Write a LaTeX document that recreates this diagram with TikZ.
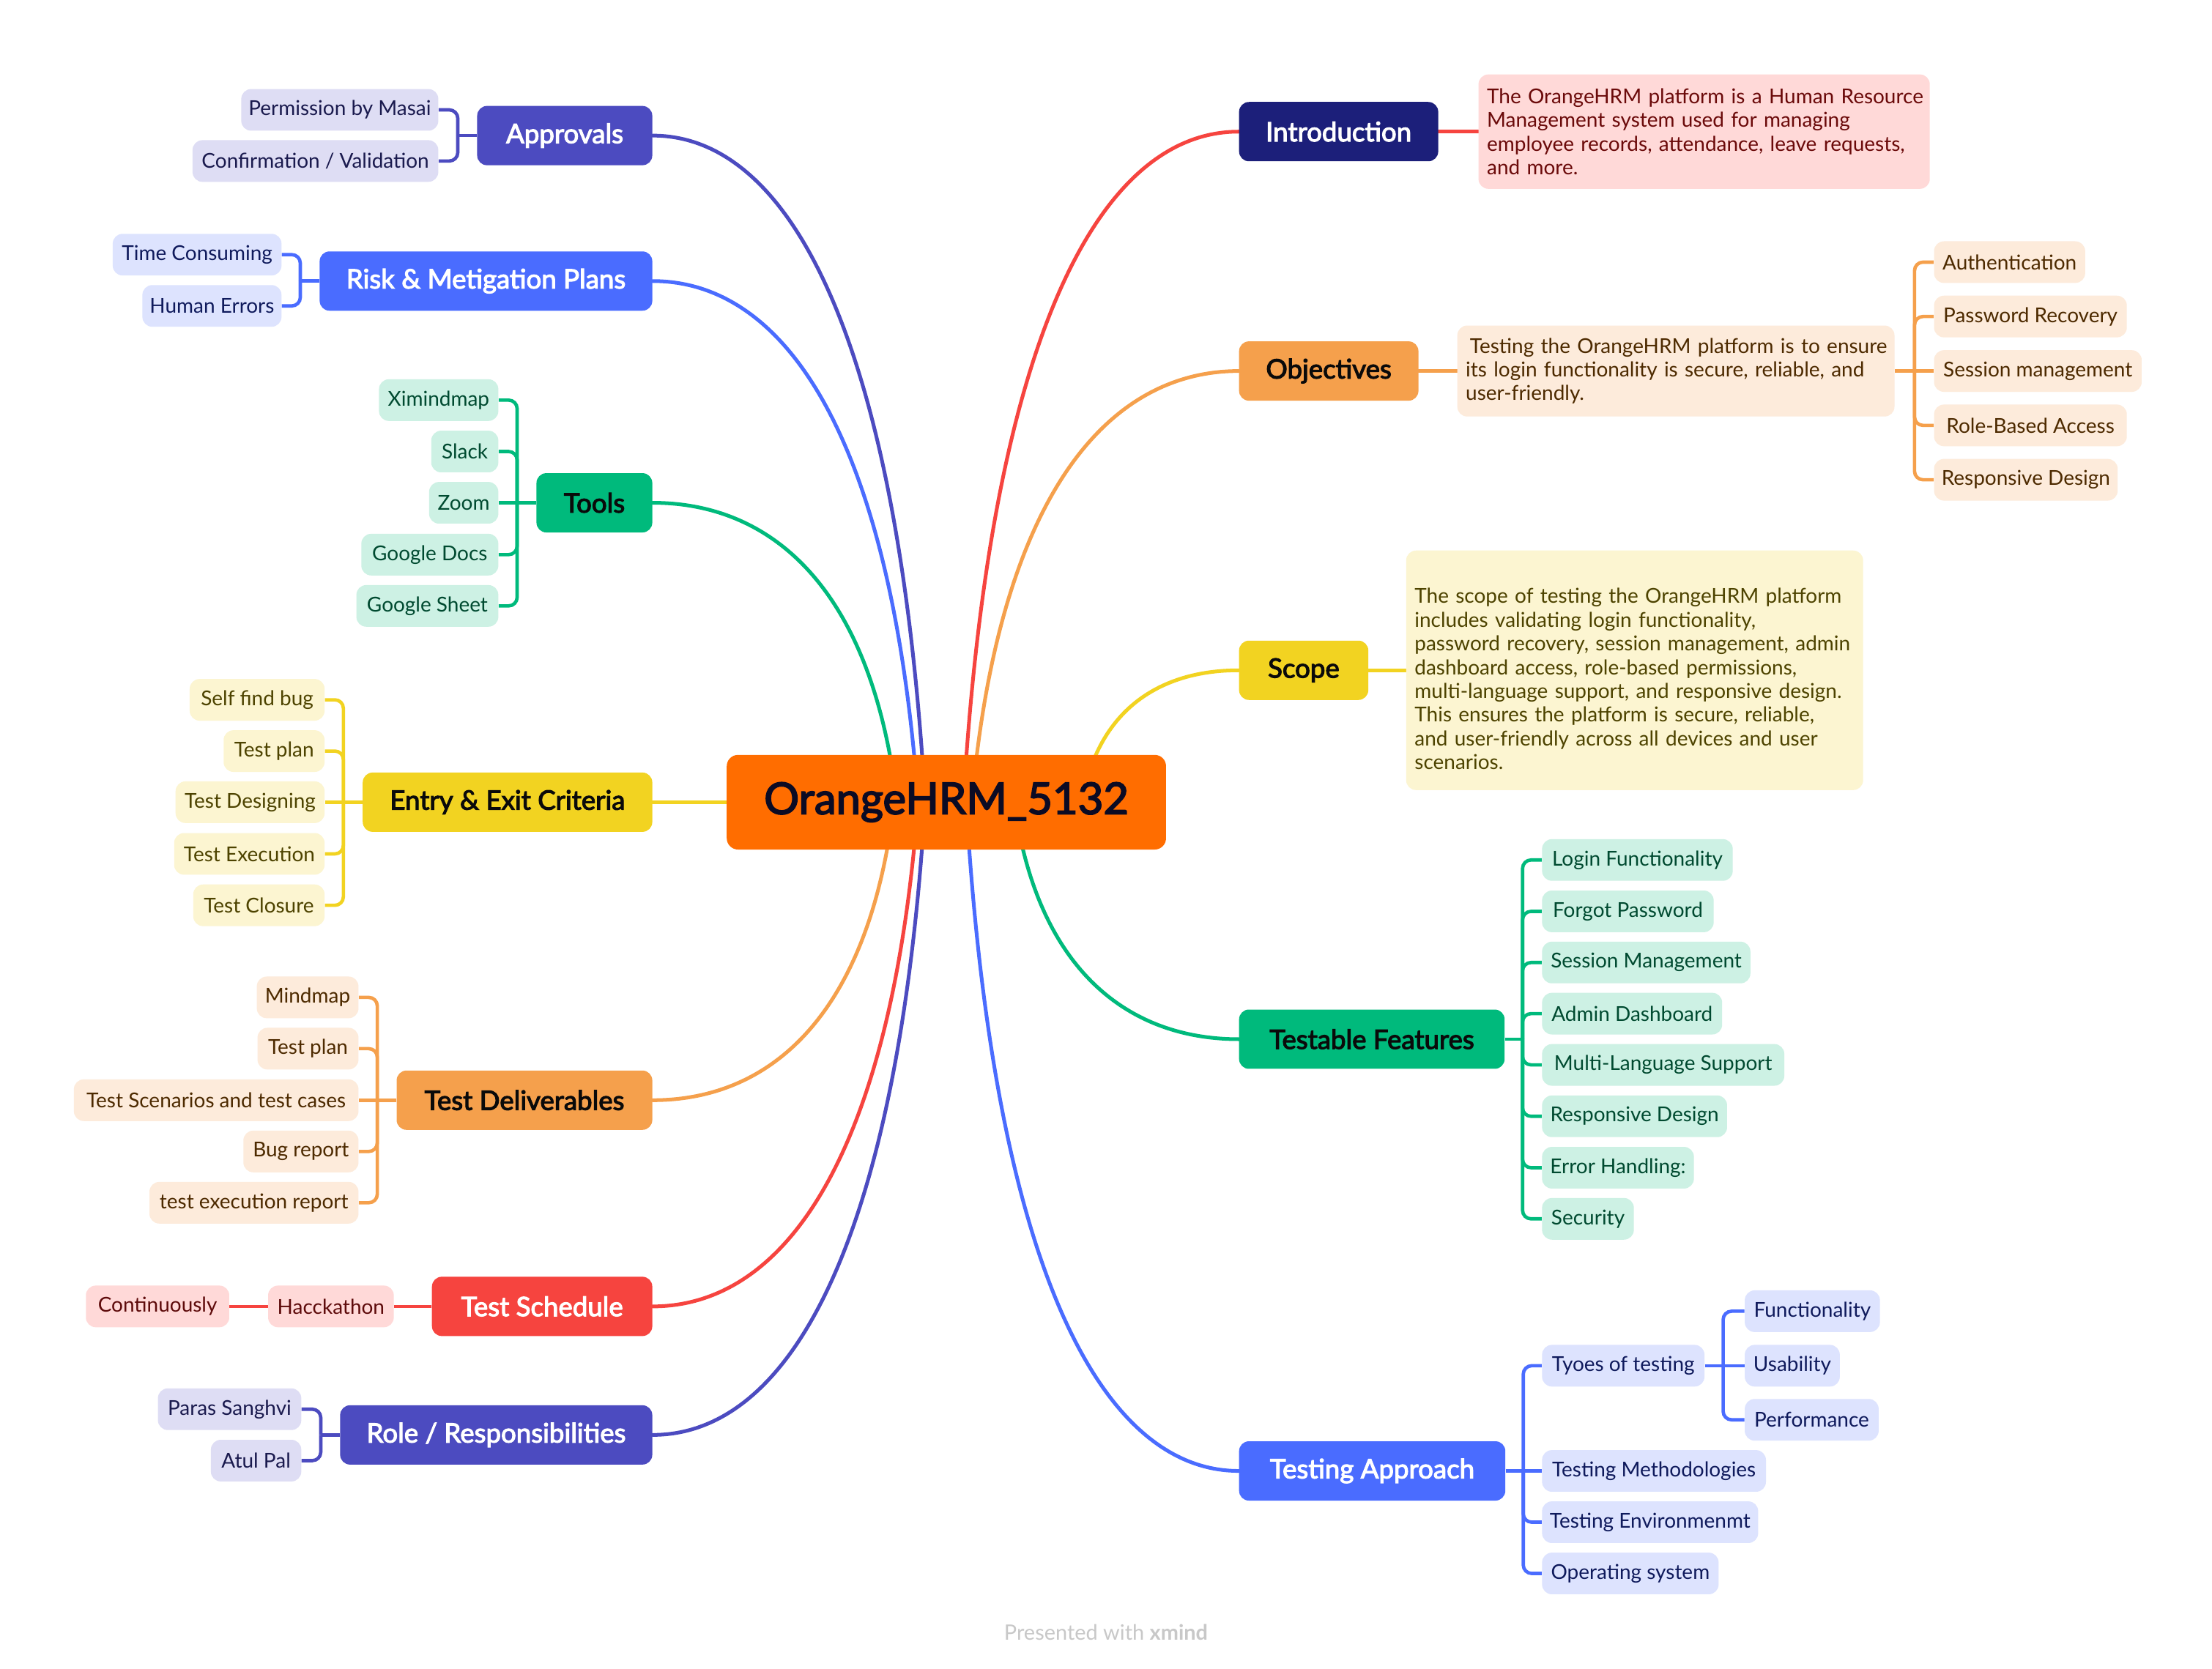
\documentclass[tikz,border=0pt]{standalone}
\usepackage{fontspec}
\setmainfont{Lato}
\newfontfamily\medfont{Lato}[FakeBold=3]
\usetikzlibrary{backgrounds,calc}

\definecolor{cOrange}{HTML}{FF6D00}
\definecolor{cIndigo}{HTML}{4C4BC0}
\definecolor{cBlue}{HTML}{4A6CFF}
\definecolor{cGreen}{HTML}{00BA7C}
\definecolor{cYellow}{HTML}{F2D321}
\definecolor{cPeach}{HTML}{F5A04C}
\definecolor{cRed}{HTML}{F6443F}
\definecolor{cNavy}{HTML}{1C1F7A}
\definecolor{fIndigo}{HTML}{DEDDF4}
\definecolor{fBlue}{HTML}{DDE3FE}
\definecolor{fGreen}{HTML}{CDF1E4}
\definecolor{fYellow}{HTML}{FCF5D1}
\definecolor{fPeach}{HTML}{FDEBDB}
\definecolor{fRed}{HTML}{FFD9D8}
\definecolor{tIndigo}{HTML}{1A1A4E}
\definecolor{tBlue}{HTML}{0F1A5C}
\definecolor{tGreen}{HTML}{004A30}
\definecolor{tYellow}{HTML}{4D4300}
\definecolor{tPeach}{HTML}{4D2A00}
\definecolor{tRed}{HTML}{5E0B0B}
\definecolor{tIntro}{HTML}{6B0A0A}
\definecolor{tDark}{HTML}{0B0B24}
\definecolor{tBlk}{HTML}{0A0A0A}
\definecolor{footgray}{HTML}{C8C8C8}

\tikzset{
  branch/.style={rounded corners=7pt, minimum height=42pt, inner xsep=8pt, inner ysep=0pt,
    font=\medfont\fontsize{19}{22}\selectfont},
  leaf/.style={rounded corners=7pt, minimum height=29.5pt, inner xsep=5pt, inner ysep=0pt,
    font=\fontsize{14.5}{17}\selectfont},
  lI/.style={leaf, fill=fIndigo, text=tIndigo},
  lB/.style={leaf, fill=fBlue, text=tBlue},
  lG/.style={leaf, fill=fGreen, text=tGreen},
  lY/.style={leaf, fill=fYellow, text=tYellow},
  lP/.style={leaf, fill=fPeach, text=tPeach},
  lR/.style={leaf, fill=fRed, text=tRed},
  tbox/.style={rounded corners=7pt, inner xsep=6pt, inner ysep=0pt, align=left,
    font=\fontsize{14.5}{16.8}\selectfont},
  wire/.style={line width=2.6pt, line cap=round},
  bus/.style={line width=2.4pt, rounded corners=6pt},
}

\begin{document}
\begin{tikzpicture}[x=1pt,y=-1pt]
\begin{pgfonlayer}{background}
  \fill[white] (0,0) rectangle (1566,1181.25);
\end{pgfonlayer}
\useasboundingbox (0,0) rectangle (1566,1181.25);

% ---------- root ----------
\node[fill=cOrange, rounded corners=8pt, minimum width=311pt, minimum height=67pt, inner sep=0pt,
      text=tDark, font=\medfont\fontsize{31}{36}\selectfont] (root) at (670,568) {OrangeHRM\_5132};

% ---------- main branches ----------
\node[branch, fill=cIndigo, text=white, minimum width=124pt, anchor=east] (approvals) at (462,96) {Approvals};
\node[branch, fill=cBlue, text=white, minimum width=235.5pt, anchor=east] (risk) at (462,199) {Risk \& Metigation Plans};
\node[branch, fill=cGreen, text=tBlk, minimum width=82pt, anchor=east] (tools) at (462,356) {Tools};
\node[branch, fill=cYellow, text=tBlk, minimum width=205pt, anchor=east] (entry) at (462,568) {Entry \& Exit Criteria};
\node[branch, fill=cPeach, text=tBlk, minimum width=181pt, anchor=east] (deliv) at (462,779) {Test Deliverables};
\node[branch, fill=cRed, text=white, minimum width=156pt, anchor=east] (sched) at (462,925) {Test Schedule};
\node[branch, fill=cIndigo, text=white, minimum width=221pt, anchor=east] (role) at (462,1016) {Role / Responsibilities};

\node[branch, fill=cNavy, text=white, minimum width=141pt, anchor=west] (intro) at (877,93.2) {Introduction};
\node[branch, fill=cPeach, text=tBlk, minimum width=127pt, anchor=west] (obj) at (877,262.7) {Objectives};
\node[branch, fill=cYellow, text=tBlk, minimum width=91.5pt, anchor=west] (scope) at (877,474.6) {Scope};
\node[branch, fill=cGreen, text=tBlk, minimum width=188pt, anchor=west] (testable) at (877,735.8) {Testable Features};
\node[branch, fill=cBlue, text=white, minimum width=188.5pt, anchor=west] (approach) at (877,1041.5) {Testing Approach};

% ---------- left leaves ----------
\node[lI, minimum width=139.5pt, anchor=east] (ap1) at (310.5,77.8) {Permission by Masai};
\node[lI, minimum width=174pt, anchor=east] (ap2) at (310.5,114) {Confirmation / Validation};

\node[lB, minimum width=119.5pt, anchor=east] (rk1) at (199.5,180.3) {Time Consuming};
\node[lB, minimum width=98.5pt, anchor=east] (rk2) at (199.5,216.6) {Human Errors};

\node[lG, minimum width=84.5pt, anchor=east] (tl1) at (353,283.3) {Ximindmap};
\node[lG, minimum width=47.5pt, anchor=east] (tl2) at (353,319.7) {Slack};
\node[lG, minimum width=49pt, anchor=east] (tl3) at (353,356) {Zoom};
\node[lG, minimum width=97pt, anchor=east] (tl4) at (353,392.7) {Google Docs};
\node[lG, minimum width=100.5pt, anchor=east] (tl5) at (353,429) {Google Sheet};

\node[lY, minimum width=95.5pt, anchor=east] (en1) at (230,495.5) {Self find bug};
\node[lY, minimum width=71.5pt, anchor=east] (en2) at (230,531.8) {Test plan};
\node[lY, minimum width=105.5pt, anchor=east] (en3) at (230,568) {Test Designing};
\node[lY, minimum width=106.5pt, anchor=east] (en4) at (230,604.6) {Test Execution};
\node[lY, minimum width=93pt, anchor=east] (en5) at (230,641) {Test Closure};

\node[lP, minimum width=72pt, anchor=east] (dv1) at (254,706.2) {Mindmap};
\node[lP, minimum width=71.5pt, anchor=east] (dv2) at (254,742.5) {Test plan};
\node[lP, minimum width=201.5pt, anchor=east] (dv3) at (254,779) {Test Scenarios and test cases};
\node[lP, minimum width=81.5pt, anchor=east] (dv4) at (254,815.3) {Bug report};
\node[lP, minimum width=148pt, anchor=east] (dv5) at (254,851.6) {test execution report};

\node[lR, minimum width=89pt, anchor=east] (sc1) at (279,925) {Hacckathon};
\node[lR, minimum width=101.5pt, anchor=east] (sc2) at (162.5,925) {Continuously};

\node[lI, minimum width=101.5pt, anchor=east] (ro1) at (213.5,997.8) {Paras Sanghvi};
\node[lI, minimum width=64pt, anchor=east] (ro2) at (213.5,1034.2) {Atul Pal};

% ---------- right side ----------
\node[tbox, fill=fRed, text=tIntro, text width=307.5pt, minimum height=81pt, anchor=west] (introtext) at (1046.5,93.2)
  {\mbox{The OrangeHRM platform is a Human Resource}\\\mbox{Management system used for managing}\\\mbox{employee records, attendance, leave requests,}\\\mbox{and more.}};

\node[tbox, fill=fPeach, text=tPeach, text width=297.5pt, minimum height=64.4pt, anchor=west] (objtext) at (1031.5,262.7)
  {\mbox{\hspace{3pt}Testing the OrangeHRM platform is to ensure}\\\mbox{its login functionality is secure, reliable, and}\\\mbox{user-friendly.}};

\node[lP, minimum width=107pt, anchor=west] (ob1) at (1369,185.6) {Authentication};
\node[lP, minimum width=136.5pt, anchor=west] (ob2) at (1369,224.1) {Password Recovery};
\node[lP, minimum width=147pt, anchor=west] (ob3) at (1369,262.7) {Session management};
\node[lP, minimum width=136.5pt, anchor=west] (ob4) at (1369,301.2) {Role-Based Access};
\node[lP, minimum width=130pt, anchor=west] (ob5) at (1369,339.7) {Responsive Design};

\node[tbox, fill=fYellow, text=tYellow, text width=311.5pt, minimum height=169.6pt, anchor=west] (scopetext) at (995.3,474.6)
  {\mbox{\rule{0pt}{23pt}The scope of testing the OrangeHRM platform}\\\mbox{includes validating login functionality,}\\\mbox{password recovery, session management, admin}\\\mbox{dashboard access, role-based permissions,}\\\mbox{multi-language support, and responsive design.}\\\mbox{This ensures the platform is secure, reliable,}\\\mbox{and user-friendly across all devices and user}\\\mbox{scenarios.}};

\node[lG, minimum width=135pt, anchor=west] (tf1) at (1091.5,608.9) {Login Functionality};
\node[lG, minimum width=121.5pt, anchor=west] (tf2) at (1091.5,645.3) {Forgot Password};
\node[lG, minimum width=147.5pt, anchor=west] (tf3) at (1091.5,681.5) {Session Management};
\node[lG, minimum width=127.5pt, anchor=west] (tf4) at (1091.5,717.7) {Admin Dashboard};
\node[lG, minimum width=171.5pt, anchor=west] (tf5) at (1091.5,754) {Multi-Language Support};
\node[lG, minimum width=131pt, anchor=west] (tf6) at (1091.5,790.4) {Responsive Design};
\node[lG, minimum width=107.5pt, anchor=west] (tf7) at (1091.5,826.8) {Error Handling:};
\node[lG, minimum width=65pt, anchor=west] (tf8) at (1091.5,863) {Security};

\node[lB, minimum width=115pt, anchor=west] (ta1) at (1091.5,967) {Tyoes of testing};
\node[lB, minimum width=158.5pt, anchor=west] (ta2) at (1091.5,1041.5) {Testing Methodologies};
\node[lB, minimum width=153pt, anchor=west] (ta3) at (1091.5,1077.8) {Testing Environmenmt};
\node[lB, minimum width=125pt, anchor=west] (ta4) at (1091.5,1114.1) {Operating system};

\node[lB, minimum width=95.7pt, anchor=west] (ty1) at (1235,928.4) {Functionality};
\node[lB, minimum width=67.3pt, anchor=west] (ty2) at (1235,967) {Usability};
\node[lB, minimum width=94.8pt, anchor=west] (ty3) at (1235,1005.3) {Performance};

% ---------- footer ----------
\node[text=footgray, font=\fontsize{15}{18}\selectfont, inner sep=0pt] (footer) at (783,1155.5) {Presented with \textbf{xmind}};

% ---------- connectors ----------
\begin{pgfonlayer}{background}
  \coordinate (sAp) at (655,568);
  \coordinate (sRk) at (650,568);
  \coordinate (sTl) at (635,568);
  \coordinate (sDv) at (633,568);
  \coordinate (sSc) at (650,568);
  \coordinate (sRo) at (655,568);
  \coordinate (sIn) at (682,568);
  \coordinate (sOb) at (688,568);
  \coordinate (sSp) at (766,568);
  \coordinate (sTf) at (718,568);
  \coordinate (sTa) at (684,568);

  \draw[wire, cIndigo] (sAp) .. controls (635.7,237.3) and (558.5,96) .. (approvals.east);
  \draw[wire, cBlue]   (sRk) .. controls (631.2,309.4) and (556,199) .. (risk.east);
  \draw[wire, cGreen]  (sTl) .. controls (617.7,419.3) and (548.5,356) .. (tools.east);
  \draw[wire, cYellow] (root.west) -- (entry.east);
  \draw[wire, cPeach]  (sDv) .. controls (615.9,716.1) and (547.5,779) .. (deliv.east);
  \draw[wire, cRed]    (sSc) .. controls (631.2,817.6) and (556,925) .. (sched.east);
  \draw[wire, cIndigo] (sRo) .. controls (635.7,881.7) and (558.5,1016) .. (role.east);

  \draw[wire, cRed]    (sIn) .. controls (701.5,235.2) and (779.5,93.2) .. (intro.west);
  \draw[wire, cPeach]  (sOb) .. controls (706.9,353.8) and (782.5,262.7) .. (obj.west);
  \draw[wire, cYellow] (sSp) .. controls (777.1,502.2) and (821.5,474.6) .. (scope.west);
  \draw[wire, cGreen]  (sTf) .. controls (733.9,685.3) and (797.5,735.8) .. (testable.west);
  \draw[wire, cBlue]   (sTa) .. controls (703.3,900.2) and (780.5,1041.5) .. (approach.west);

  \draw[wire, cRed]    (intro.east) -- (introtext.west);
  \draw[wire, cPeach]  (obj.east) -- (objtext.west);
  \draw[wire, cYellow] (scope.east) -- (scopetext.west);

  \coordinate (apB) at ($(approvals.west)+(-13.5,0)$);
  \draw[bus, cIndigo] (approvals.west) -- (apB);
  \draw[bus, cIndigo] (apB) |- (ap1.east);
  \draw[bus, cIndigo] (apB) |- (ap2.east);

  \coordinate (rkB) at ($(risk.west)+(-13.5,0)$);
  \draw[bus, cBlue] (risk.west) -- (rkB);
  \draw[bus, cBlue] (rkB) |- (rk1.east);
  \draw[bus, cBlue] (rkB) |- (rk2.east);

  \coordinate (tlB) at ($(tools.west)+(-13.5,0)$);
  \draw[bus, cGreen] (tools.west) -- (tl3.east);
  \draw[bus, cGreen] (tlB) |- (tl1.east);
  \draw[bus, cGreen] (tlB) |- (tl2.east);
  \draw[bus, cGreen] (tlB) |- (tl4.east);
  \draw[bus, cGreen] (tlB) |- (tl5.east);

  \coordinate (enB) at ($(entry.west)+(-13.5,0)$);
  \draw[bus, cYellow] (entry.west) -- (en3.east);
  \draw[bus, cYellow] (enB) |- (en1.east);
  \draw[bus, cYellow] (enB) |- (en2.east);
  \draw[bus, cYellow] (enB) |- (en4.east);
  \draw[bus, cYellow] (enB) |- (en5.east);

  \coordinate (dvB) at ($(deliv.west)+(-13.5,0)$);
  \draw[bus, cPeach] (deliv.west) -- (dv3.east);
  \draw[bus, cPeach] (dvB) |- (dv1.east);
  \draw[bus, cPeach] (dvB) |- (dv2.east);
  \draw[bus, cPeach] (dvB) |- (dv4.east);
  \draw[bus, cPeach] (dvB) |- (dv5.east);

  \draw[bus, cRed] (sched.west) -- (sc1.east);
  \draw[bus, cRed] (sc1.west) -- (sc2.east);

  \coordinate (roB) at ($(role.west)+(-13.5,0)$);
  \draw[bus, cIndigo] (role.west) -- (roB);
  \draw[bus, cIndigo] (roB) |- (ro1.east);
  \draw[bus, cIndigo] (roB) |- (ro2.east);

  \coordinate (obB) at ($(objtext.east)+(14,0)$);
  \draw[bus, cPeach] (objtext.east) -- (ob3.west);
  \draw[bus, cPeach] (obB) |- (ob1.west);
  \draw[bus, cPeach] (obB) |- (ob2.west);
  \draw[bus, cPeach] (obB) |- (ob4.west);
  \draw[bus, cPeach] (obB) |- (ob5.west);

  \coordinate (tfB) at ($(testable.east)+(12.5,0)$);
  \draw[bus, cGreen] (testable.east) -- (tfB);
  \foreach \k in {1,...,8} { \draw[bus, cGreen] (tfB) |- (tf\k.west); }

  \coordinate (taB) at ($(approach.east)+(12.5,0)$);
  \draw[bus, cBlue] (approach.east) -- (ta2.west);
  \draw[bus, cBlue] (taB) |- (ta1.west);
  \draw[bus, cBlue] (taB) |- (ta3.west);
  \draw[bus, cBlue] (taB) |- (ta4.west);

  \coordinate (tyB) at ($(ta1.east)+(13,0)$);
  \draw[bus, cBlue] (ta1.east) -- (ty2.west);
  \draw[bus, cBlue] (tyB) |- (ty1.west);
  \draw[bus, cBlue] (tyB) |- (ty3.west);
\end{pgfonlayer}
\end{tikzpicture}
\end{document}
